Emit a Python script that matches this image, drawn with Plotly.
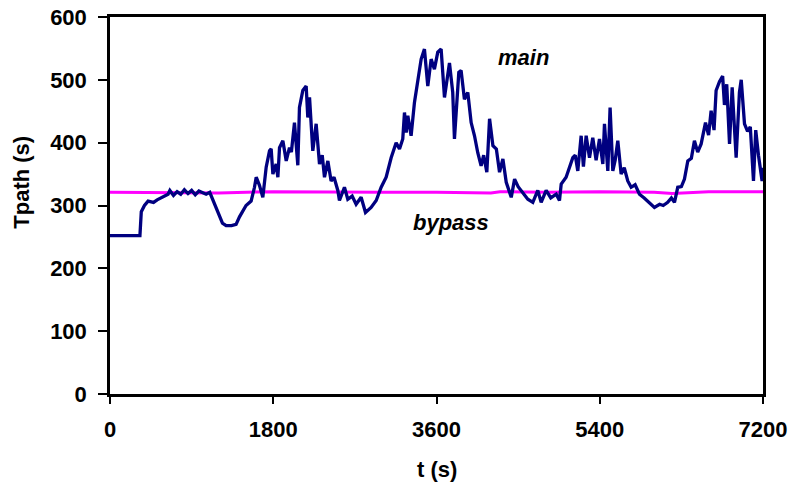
import plotly.graph_objects as go

# ---- data ----
main_t = [0, 330, 345, 380, 420, 480, 520, 560, 600, 640, 660, 700, 740, 780, 820, 860, 900, 940, 980,
          1020, 1060, 1100, 1130, 1160, 1200, 1240, 1280, 1340, 1390, 1428, 1500, 1556, 1593, 1612, 1648,
          1685, 1722, 1759, 1777, 1796, 1832, 1851, 1869, 1906, 1943, 1979, 2000, 2034, 2071, 2089, 2126,
          2163, 2181, 2200, 2236, 2273, 2310, 2340, 2365, 2402, 2438, 2470, 2512, 2530, 2585, 2622, 2670,
          2714, 2769, 2817, 2879, 2935, 2990, 3045, 3100, 3155, 3192, 3228, 3247, 3266, 3284, 3320, 3357,
          3394, 3431, 3467, 3504, 3541, 3577, 3614, 3651, 3688, 3743, 3779, 3798, 3846, 3871, 3908, 3945,
          3982, 4019, 4055, 4092, 4120, 4155, 4185, 4222, 4260, 4295, 4332, 4369, 4424, 4461, 4500, 4552,
          4607, 4662, 4717, 4754, 4809, 4860, 4920, 4956, 4975, 5029, 5066, 5103, 5130, 5158, 5195, 5220,
          5250, 5287, 5323, 5360, 5397, 5434, 5452, 5489, 5514, 5544, 5570, 5599, 5636, 5670, 5709, 5746,
          5790, 5838, 5890, 5948, 6003, 6060, 6100, 6149, 6190, 6224, 6260, 6300, 6334, 6371, 6410, 6444,
          6480, 6518, 6566, 6600, 6628, 6660, 6683, 6720, 6755, 6775, 6800, 6831, 6860, 6904, 6940, 6960,
          6996, 7030, 7060, 7095, 7120, 7150, 7190, 7200]
main_v = [252, 252, 290, 300, 307, 305, 309, 312, 315, 318, 324, 316, 322, 318, 325, 319, 324, 317, 323,
          320, 318, 321, 310, 300, 285, 272, 268, 268, 270, 282, 300, 307, 329, 345, 332,
          313, 361, 387, 390, 350, 366, 345, 392, 403, 371, 392, 385, 432, 364, 456, 483,
          490, 440, 472, 387, 430, 366, 380, 345, 371, 339, 345, 324, 308, 329, 310, 315,
          302, 313, 289, 297, 308, 329, 345, 376, 400, 390, 406, 448, 416, 443, 411, 464,
          496, 533, 549, 490, 533, 517, 544, 549, 472, 527, 480, 406, 512, 515, 469, 480,
          432, 411, 384, 363, 380, 353, 438, 395, 390, 353, 374, 337, 313, 342, 330, 321,
          310, 305, 324, 305, 324, 312, 318, 308, 334, 345, 361, 376, 380, 355, 411, 362,
          411, 376, 408, 372, 406, 366, 430, 355, 456, 355, 372, 403, 350, 360, 339, 329,
          333, 318, 312, 305, 297, 302, 300, 305, 312, 305, 329, 330, 342, 371, 375, 403,
          385, 398, 432, 412, 451, 420, 483, 497, 506, 460, 493, 398, 488, 376, 480, 500,
          430, 418, 425, 339, 420, 380, 339, 360]

bypass_t = [0, 600, 1200, 1800, 2400, 3000, 3600, 4200, 4300, 4800, 5400, 6000, 6200, 6600, 7200]
bypass_v = [321, 321, 320, 322, 321, 321, 321, 320, 322, 321, 322, 321, 319, 322, 322]

x_ticks = [0, 1800, 3600, 5400, 7200]
y_ticks = [0, 100, 200, 300, 400, 500, 600]

FONT = "Liberation Sans, Arial, sans-serif"

fig = go.Figure()
fig.add_trace(go.Scatter(x=bypass_t, y=bypass_v, mode="lines",
                         line=dict(color="#FF00FF", width=3), name="bypass"))
fig.add_trace(go.Scatter(x=main_t, y=main_v, mode="lines",
                         line=dict(color="#000080", width=3.3), name="main"))

fig.update_layout(
    width=793, height=493,
    margin=dict(l=110, r=30, t=17, b=99),
    paper_bgcolor="white", plot_bgcolor="white",
    showlegend=False,
    font=dict(family=FONT, color="black"),
)
fig.update_xaxes(range=[0, 7200], tickvals=x_ticks, ticktext=["<b>%d</b>" % v for v in x_ticks],
                 automargin=False,
                 showgrid=False, zeroline=False, showline=True, mirror=True,
                 linecolor="black", linewidth=2.5, ticks="outside", ticklen=7, tickwidth=2,
                 tickcolor="black", ticklabelstandoff=7,
                 tickfont=dict(family=FONT, size=22, color="black"))
fig.update_yaxes(range=[0, 600], tickvals=y_ticks, ticktext=["<b>%d</b>" % v for v in y_ticks],
                 automargin=False,
                 showgrid=False, zeroline=False, showline=True, mirror=True,
                 linecolor="black", linewidth=2.5, ticks="outside", ticklen=9, tickwidth=2,
                 tickcolor="black", ticklabelstandoff=7,
                 tickfont=dict(family=FONT, size=22, color="black"))

fig.add_annotation(text="<b>Tpath (s)</b>", xref="paper", yref="paper", x=-0.1348, y=0.563,
                   xanchor="center", yanchor="middle",
                   showarrow=False, textangle=-90, font=dict(family=FONT, size=22, color="black"))
fig.add_annotation(text="<b>t (s)</b>", xref="paper", yref="paper", x=0.5008, y=-0.201,
                   xanchor="center", yanchor="middle",
                   showarrow=False, font=dict(family=FONT, size=22, color="black"))
fig.add_annotation(text="<b><i>main</i></b>", x=4559, y=535, showarrow=False,
                   font=dict(family=FONT, size=22, color="black"))
fig.add_annotation(text="<b><i>bypass</i></b>", x=3765, y=273, showarrow=False,
                   font=dict(family=FONT, size=22, color="black"))

fig.write_html("out.html")
